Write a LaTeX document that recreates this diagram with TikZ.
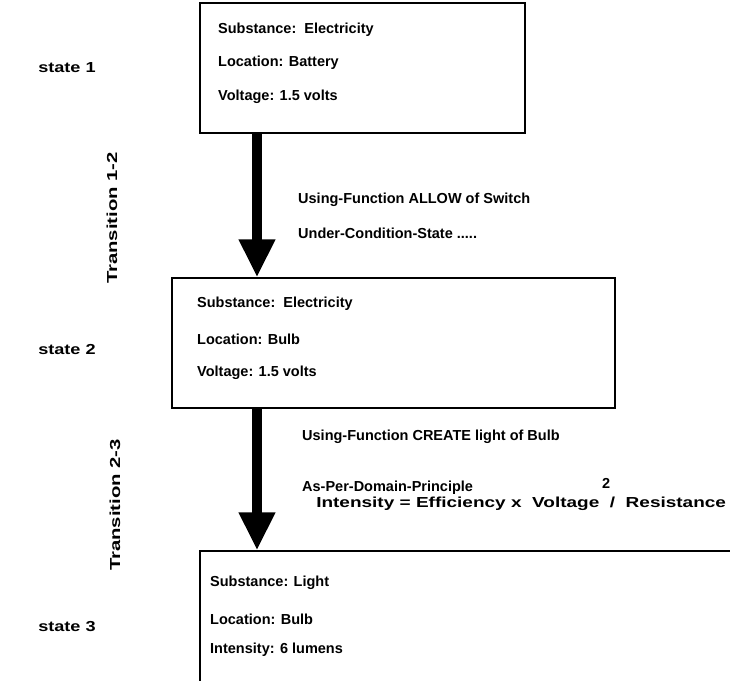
\documentclass[tikz,border=0pt]{standalone}
\usepackage{fontspec}
\setmainfont{Liberation Sans}
\usetikzlibrary{arrows.meta}

\begin{document}
\begin{tikzpicture}[x=1pt,y=-1pt,
    statebox/.style ={draw, line width=1.1pt, inner sep=0pt},
    txt/.style ={anchor=west, inner sep=0pt, font=\fontsize{14.5}{17}\bfseries},
    wide/.style ={txt, xscale=1.31, transform shape},
    tag/.style ={txt, xscale=1.25, transform shape},
    side/.style ={txt, anchor=center, rotate=90, xscale=1.4, transform shape},
    flow/.style ={line width=10pt, -{Triangle[width=34pt,length=38pt]}}]
   \clip (0,0) rectangle (730,680);

   \node[statebox, minimum width=325pt, minimum height=130pt] (S1) at (362.5,68) {};
   \node[statebox, minimum width=443pt, minimum height=130pt] (S2) at (393.5,343) {};
   \node[statebox, minimum width=560pt, minimum height=150pt] (S3) at (480,626) {};

   \node[txt] (s1a) at (218,30) {Substance:\ \ Electricity};
   \node[txt] (s1b) at (218,63) {Location: Battery};
   \node[txt] (s1c) at (218,97) {Voltage: 1.5 volts};

   \node[txt] (s2a) at (197,304) {Substance:\ \ Electricity};
   \node[txt] (s2b) at (197,339) {Location: Bulb};
   \node[txt] (s2c) at (197,373) {Voltage: 1.5 volts};

   \node[txt] (s3a) at (210,583) {Substance: Light};
   \node[txt] (s3b) at (210,619) {Location: Bulb};
   \node[txt] (s3c) at (210,650) {Intensity: 6 lumens};

   \node[tag] (L1) at (38,68) {state 1};
   \node[tag] (L2) at (38,350) {state 2};
   \node[tag] (L3) at (38,627) {state 3};

   \node[side] (T12) at (112,218) {Transition 1-2};
   \node[side] (T23) at (115,505) {Transition 2-3};

   \node[txt] (f1) at (298,200) {Using-Function ALLOW of Switch};
   \node[txt] (c1) at (298,233) {Under-Condition-State .....};

   \node[txt] (f2) at (302,437) {Using-Function CREATE light of Bulb};
   \node[txt] (p2) at (302,488) {As-Per-Domain-Principle};
   \node[txt] (sq) at (602,483) {2};
   \node[wide] (e2) at (316,504) {Intensity = Efficiency x\ \ Voltage\ \ /\ \ Resistance};

   \coordinate (axis) at (257,0);
   \draw[flow] (S1.south -| axis) -- (S2.north -| axis);
   \draw[flow] (S2.south -| axis) -- (S3.north -| axis);

 \end{tikzpicture}
\end{document}
